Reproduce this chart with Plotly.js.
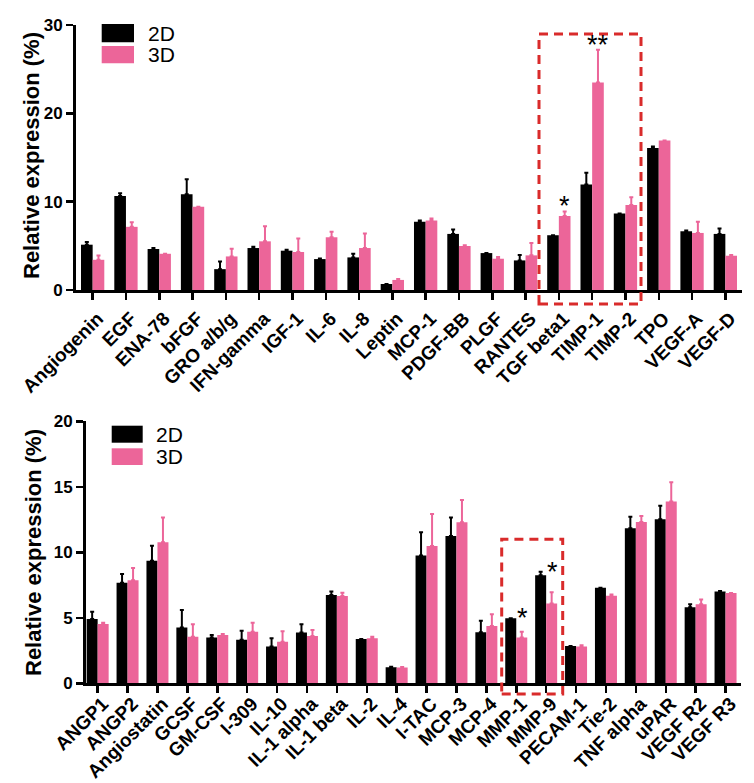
<!DOCTYPE html>
<html>
<head>
<meta charset="utf-8">
<script src="https://cdn.plot.ly/plotly-3.0.1.min.js"></script>
<style>
  html, body { margin: 0; padding: 0; background: #fff; }
  #chart { width: 754px; height: 783px; }
</style>
</head>
<body>
<div id="chart"></div>
<script>
// Panel A: angiogenesis-related factors (relative expression, %)
const catsA = ['Angiogenin', 'EGF', 'ENA-78', 'bFGF', 'GRO a/b/g', 'IFN-gamma', 'IGF-1', 'IL-6', 'IL-8',
  'Leptin', 'MCP-1', 'PDGF-BB', 'PLGF', 'RANTES', 'TGF beta1', 'TIMP-1', 'TIMP-2', 'TPO', 'VEGF-A', 'VEGF-D'];
const a2D = [5.13, 10.65, 4.64, 10.84, 2.36, 4.75, 4.45, 3.5, 3.69, 0.68, 7.72, 6.35, 4.18, 3.35, 6.2, 11.94, 8.67, 16.08, 6.65, 6.35];
const a2DErr = [0.31, 0.3, 0.11, 1.71, 0.87, 0.15, 0.11, 0.07, 0.41, 0, 0.15, 0.49, 0, 0.6, 0, 1.33, 0, 0.16, 0.08, 0.61];
const a3D = [3.42, 7.15, 4.1, 9.43, 3.8, 5.51, 4.3, 5.97, 4.75, 1.14, 7.87, 4.98, 3.54, 3.92, 8.37, 23.5, 9.62, 16.92, 6.46, 3.88];
const a3DErr = [0.48, 0.53, 0, 0, 0.88, 1.71, 1.52, 0.63, 1.64, 0.11, 0.23, 0.1, 0.19, 1.4, 0.53, 3.7, 0.87, 0, 1.26, 0.08];

// Panel B: second array of factors
const catsB = ['ANGP1', 'ANGP2', 'Angiostatin', 'GCSF', 'GM-CSF', 'I-309', 'IL-10', 'IL-1 alpha', 'IL-1 beta', 'IL-2', 'IL-4',
  'I-TAC', 'MCP-3', 'MCP-4', 'MMP-1', 'MMP-9', 'PECAM-1', 'Tie-2', 'TNF alpha', 'uPAR', 'VEGF R2', 'VEGF R3'];
const b2D = [4.91, 7.68, 9.36, 4.25, 3.49, 3.33, 2.8, 3.87, 6.74, 3.38, 1.22, 9.75, 11.25, 3.89, 4.96, 8.24, 2.85, 7.3, 11.83, 12.52, 5.8, 7.0];
const b2DErr = [0.56, 0.67, 1.14, 1.35, 0.2, 0.69, 0.64, 0.63, 0.26, 0, 0.05, 1.78, 1.4, 0.89, 0, 0.28, 0, 0, 0.89, 1.04, 0.23, 0.05];
const b3D = [4.53, 7.86, 10.76, 3.56, 3.69, 3.94, 3.18, 3.61, 6.67, 3.44, 1.2, 10.48, 12.29, 4.38, 3.49, 6.1, 2.8, 6.69, 12.32, 13.87, 6.03, 6.9];
const b3DErr = [0.1, 0.94, 1.89, 0.94, 0.08, 0.69, 0.79, 0.46, 0.25, 0.12, 0.05, 2.45, 1.71, 0.89, 0.45, 0.85, 0.1, 0.08, 0.45, 1.47, 0.36, 0];

// Significance marks: [category, label]
const marksA = [['TGF beta1', '*'], ['TIMP-1', '**']];
const marksB = [['MMP-1', '*'], ['MMP-9', '*']];

const seriesNames = ['2D', '3D'];
const yTitle = 'Relative expression (%)';
const BLACK = '#000000';
const PINK = '#EC6599';
const RED = '#D92B2B';
const FONT = 'Liberation Sans, Arial, sans-serif';

function barTrace(cats, vals, errs, name, color, xa, ya, w, off) {
  return {
    type: 'bar', x: cats, y: vals, name: name, xaxis: xa, yaxis: ya,
    width: w, offset: off, showlegend: false,
    marker: { color: color, line: { width: 0 } },
    error_y: { type: 'data', symmetric: false, array: errs, arrayminus: errs.map(() => 0),
      color: color, thickness: 2, width: 2 }
  };
}

const wA = 0.35, wB = 0.368;
const traces = [
  barTrace(catsA, a2D, a2DErr, seriesNames[0], BLACK, 'x', 'y', wA, -wA),
  barTrace(catsA, a3D, a3DErr, seriesNames[1], PINK, 'x', 'y', wA, 0),
  barTrace(catsB, b2D, b2DErr, seriesNames[0], BLACK, 'x2', 'y2', wB, -wB),
  barTrace(catsB, b3D, b3DErr, seriesNames[1], PINK, 'x2', 'y2', wB, 0)
];

const tickFont = { family: FONT, size: 17, color: '#000', weight: 'bold' };
const catFont = { family: FONT, size: 19, color: '#000', weight: 'bold' };
const titleFont = { family: FONT, size: 22, color: '#000', weight: 'bold' };

function xAxis(domain, range, anchor, standoff) {
  return {
    domain: domain, range: range, anchor: anchor, type: 'category',
    showline: true, linewidth: 3, linecolor: '#000', showgrid: false, zeroline: false,
    ticks: 'outside', ticklen: 7, tickwidth: 2.5, tickcolor: '#000',
    tickangle: -45, tickfont: catFont, ticklabelshift: 5, ticklabelstandoff: standoff,
    automargin: false, fixedrange: true
  };
}
function yAxis(domain, range, dtick, anchor) {
  return {
    domain: domain, range: range, dtick: dtick, anchor: anchor,
    showline: true, linewidth: 3, linecolor: '#000', showgrid: false, zeroline: false,
    ticks: 'outside', ticklen: 7, tickwidth: 2.5, tickcolor: '#000',
    tickfont: tickFont, automargin: false, fixedrange: true
  };
}

const W = 754, H = 783;
const px = v => v / W;
const py = v => 1 - v / H;

// Legend swatches and labels
function legend(x0, x1, yBlackTop, yBlackBot, yPinkTop, yPinkBot, textX) {
  const shapes = [
    { type: 'rect', xref: 'paper', yref: 'paper', x0: px(x0), x1: px(x1), y0: py(yBlackBot), y1: py(yBlackTop),
      fillcolor: BLACK, line: { width: 0 } },
    { type: 'rect', xref: 'paper', yref: 'paper', x0: px(x0), x1: px(x1), y0: py(yPinkBot), y1: py(yPinkTop),
      fillcolor: PINK, line: { width: 0 } }
  ];
  const ann = [
    { xref: 'paper', yref: 'paper', x: px(textX), y: py((yBlackTop + yBlackBot) / 2), text: seriesNames[0],
      showarrow: false, xanchor: 'left', yanchor: 'middle', font: { family: FONT, size: 21, color: '#000' } },
    { xref: 'paper', yref: 'paper', x: px(textX), y: py((yPinkTop + yPinkBot) / 2), text: seriesNames[1],
      showarrow: false, xanchor: 'left', yanchor: 'middle', font: { family: FONT, size: 21, color: '#000' } }
  ];
  return { shapes, ann };
}
const legA = legend(101.7, 134, 24, 42.3, 46, 63.3, 146);
const legB = legend(111.7, 142.7, 425.7, 442.7, 448.3, 465, 154);

// Rotated axis titles
const titleAnn = [
  { xref: 'paper', yref: 'paper', x: px(31), y: py(156), text: yTitle, textangle: -90, showarrow: false,
    xanchor: 'center', yanchor: 'middle', font: titleFont },
  { xref: 'paper', yref: 'paper', x: px(33), y: py(553), text: yTitle, textangle: -90, showarrow: false,
    xanchor: 'center', yanchor: 'middle', font: titleFont }
];

// Dashed highlight boxes
function dashBox(x0, x1, yTop, yBot) {
  return { type: 'rect', xref: 'paper', yref: 'paper', x0: px(x0), x1: px(x1), y0: py(yBot), y1: py(yTop),
    line: { color: RED, width: 3, dash: '9px,6px' }, fillcolor: 'rgba(0,0,0,0)' };
}

// Star annotations placed just above the relevant bar (value + error)
const starAnn = [];
marksA.forEach(([cat, txt]) => {
  const i = catsA.indexOf(cat);
  starAnn.push({ xref: 'x', yref: 'y', x: cat, y: a3D[i] + a3DErr[i], text: txt, showarrow: false,
    xanchor: 'center', yanchor: 'bottom', xshift: 6, yshift: -12, font: { family: FONT, size: 27, color: '#000' } });
});
marksB.forEach(([cat, txt]) => {
  const i = catsB.indexOf(cat);
  starAnn.push({ xref: 'x2', yref: 'y2', x: cat, y: b2D[i] + b2DErr[i], text: txt, showarrow: false,
    xanchor: 'center', yanchor: 'bottom', xshift: 6, yshift: -17, font: { family: FONT, size: 27, color: '#000' } });
});

const layout = {
  width: W, height: H,
  margin: { l: 0, r: 0, t: 0, b: 0 },
  paper_bgcolor: '#fff', plot_bgcolor: 'rgba(0,0,0,0)',
  barmode: 'group',
  showlegend: false,
  font: { family: FONT, color: '#000' },
  xaxis: xAxis([px(76), px(742)], [-0.5, 19.5], 'y', 0),
  yaxis: yAxis([py(290), py(25)], [0, 30], 10, 'x'),
  xaxis2: xAxis([px(86), px(740.5)], [-0.39, 21.5], 'y2', -8),
  yaxis2: yAxis([py(683.3), py(421.3)], [0, 20], 5, 'x2'),
  shapes: [...legA.shapes, ...legB.shapes, dashBox(539, 641, 34, 304), dashBox(501.7, 562.7, 539.3, 694)],
  annotations: [...legA.ann, ...legB.ann, ...titleAnn, ...starAnn]
};

Plotly.newPlot('chart', traces, layout, { displayModeBar: false, staticPlot: true });
</script>
</body>
</html>
